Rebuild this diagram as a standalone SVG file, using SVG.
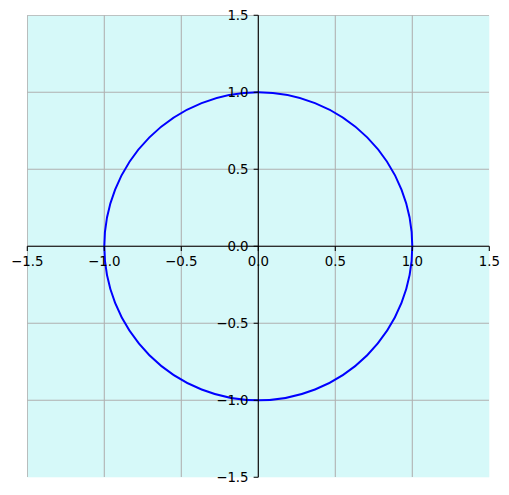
<svg xmlns="http://www.w3.org/2000/svg" width="509" height="495" viewBox="0 0 509 495">
<style>
.grid{stroke:#b0b0b0;stroke-width:1.07;fill:none}
.spine{stroke:#000;stroke-width:1.07;fill:none}
.tick{stroke:#000;stroke-width:1.07}
text{font-family:"DejaVu Sans",sans-serif;font-size:13.33px;fill:#000}
.xl{text-anchor:middle}
.yl{text-anchor:end}
</style>
<defs><clipPath id="ax"><rect x="27" y="15" width="462" height="462"/></clipPath></defs>
<rect width="509" height="495" fill="#fff"/>
<rect x="27.3" y="15.3" width="462" height="462" fill="#d6f9f9"/>
<g clip-path="url(#ax)" class="grid">
<path d="M27.3 15.3V477.3M104.3 15.3V477.3M181.3 15.3V477.3M258.3 15.3V477.3M335.3 15.3V477.3M412.3 15.3V477.3"/>
<path d="M27.3 15.3H489.3M27.3 92.3H489.3M27.3 169.3H489.3M27.3 246.3H489.3M27.3 323.3H489.3M27.3 400.3H489.3"/>
</g>
<circle cx="258.3" cy="246.3" r="154" fill="none" stroke="#0000ff" stroke-width="2"/>
<path class="spine" d="M27.3 246.3H489.3M258.3 15.3V477.3"/>
<path class="tick" d="M27.3 246.3v4.67M104.3 246.3v4.67M181.3 246.3v4.67M258.3 246.3v4.67M335.3 246.3v4.67M412.3 246.3v4.67M489.3 246.3v4.67"/>
<path class="tick" d="M258.3 15.3h-4.67M258.3 92.3h-4.67M258.3 169.3h-4.67M258.3 246.3h-4.67M258.3 323.3h-4.67M258.3 400.3h-4.67M258.3 477.3h-4.67"/>
<g class="xl">
<text x="27.3" y="266">−1.5</text>
<text x="104.3" y="266">−1.0</text>
<text x="181.3" y="266">−0.5</text>
<text x="258.3" y="266">0.0</text>
<text x="335.3" y="266">0.5</text>
<text x="412.3" y="266">1.0</text>
<text x="489.3" y="266">1.5</text>
</g>
<g class="yl">
<text x="248.6" y="20.3">1.5</text>
<text x="248.6" y="97.3">1.0</text>
<text x="248.6" y="174.3">0.5</text>
<text x="248.6" y="251.3">0.0</text>
<text x="248.6" y="328.3">−0.5</text>
<text x="248.6" y="405.3">−1.0</text>
<text x="248.6" y="482.3">−1.5</text>
</g>
</svg>
